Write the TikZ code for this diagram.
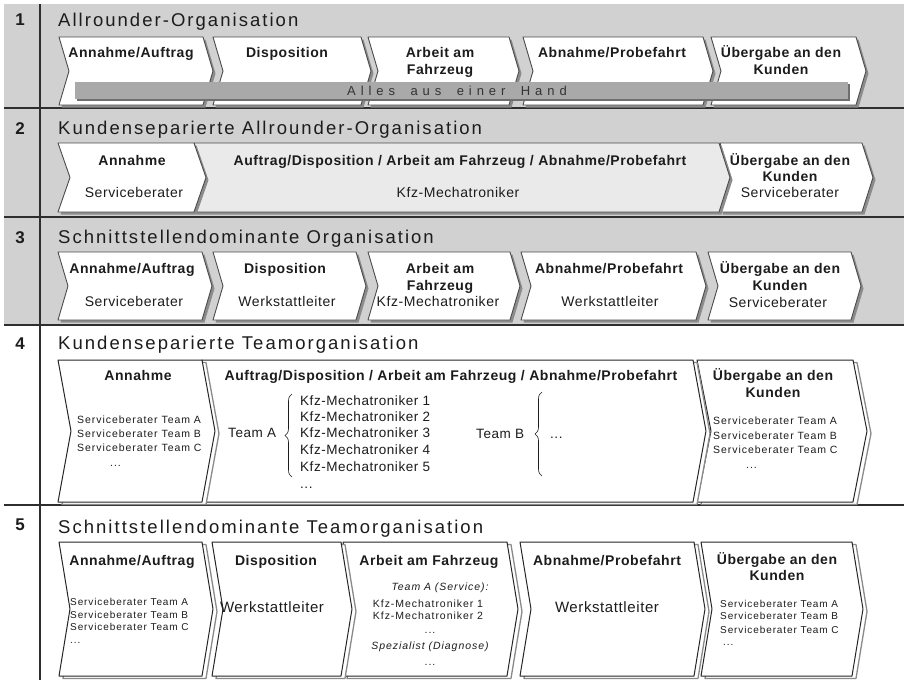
\documentclass[tikz,border=0pt]{standalone}
\usepackage{fontspec}
\setmainfont{Liberation Sans}
\newfontfamily\ttlfont[LetterSpace=11]{Liberation Sans}
\newfontfamily\labfont[LetterSpace=4]{Liberation Sans}
\newfontfamily\smlfont[LetterSpace=9]{Liberation Sans}
\newfontfamily\barfont[LetterSpace=38,WordSpace=1.8]{Liberation Sans}
\usetikzlibrary{decorations.pathreplacing}

\definecolor{bandgray}{HTML}{D1D1D1}
\definecolor{rulegray}{HTML}{2E2E2E}
\definecolor{edgegray}{HTML}{4A4A4A}
\definecolor{shadegray}{HTML}{8C8C8C}
\definecolor{framegray}{HTML}{8A8A8A}
\definecolor{bargray}{HTML}{A9A9A9}
\definecolor{barshade}{HTML}{6E6E6E}
\definecolor{palegray}{HTML}{EAEAEA}
\definecolor{inkgray}{HTML}{1C1C1C}

% chevron: #1 style, #2 x left, #3 x right (top corner), #4 y top, #5 y bottom, #6 point depth
\newcommand{\chev}[6]{%
  \path[#1shade] (#2,#4) -- (#3,#4) -- ({#3+#6},{(#4+#5)/2}) -- (#3,#5) -- (#2,#5) -- ({#2+#6},{(#4+#5)/2}) -- cycle;
  \path[#1] (#2,#4) -- (#3,#4) -- ({#3+#6},{(#4+#5)/2}) -- (#3,#5) -- (#2,#5) -- ({#2+#6},{(#4+#5)/2}) -- cycle;
}

\begin{document}
\begin{tikzpicture}[x=1pt,y=-1pt,
  bevel/.style={fill=white, draw=edgegray, line width=0.9pt, line join=round},
  bevelshade/.style={fill=shadegray, shift={(2.5,2.5)}},
  pale/.style={fill=palegray, draw=edgegray, line width=0.9pt, line join=round},
  paleshade/.style={fill=shadegray, shift={(2.5,2.5)}},
  frame/.style={fill=white, draw=black!85, line width=1pt, line join=round},
  frameshade/.style={fill=white, draw=framegray, line width=1.3pt, line join=round, shift={(4,2.5)}},
  rowrule/.style={draw=rulegray, line width=1.6pt},
  colrule/.style={draw=rulegray, line width=1.3pt},
  ttl/.style={font={\ttlfont\fontsize{18.5}{22}\selectfont}, anchor=base west, text=inkgray, inner sep=0pt},
  num/.style={font={\labfont\bfseries\fontsize{17}{20}\selectfont}, anchor=base, text=inkgray, inner sep=0pt},
  lab/.style={font={\labfont\bfseries\fontsize{14}{16}\selectfont}, anchor=base, text=inkgray, inner sep=0pt},
  txt/.style={font={\labfont\fontsize{14}{16}\selectfont}, anchor=base, text=inkgray, inner sep=0pt},
  bigtxt/.style={font={\labfont\fontsize{15}{17}\selectfont}, anchor=base, text=inkgray, inner sep=0pt},
  kfz/.style={font={\labfont\fontsize{13.5}{16}\selectfont}, anchor=base west, text=inkgray, inner sep=0pt},
  sml/.style={font={\smlfont\fontsize{10.5}{13}\selectfont}, anchor=base west, text=inkgray, inner sep=0pt},
  tiny/.style={font={\smlfont\fontsize{10}{12}\selectfont}, anchor=base west, text=inkgray, inner sep=0pt},
  smlc/.style={font={\smlfont\fontsize{10.5}{13}\selectfont}, anchor=base, text=inkgray, inner sep=0pt},
  smli/.style={font={\smlfont\itshape\fontsize{10.5}{13}\selectfont}, anchor=base, text=inkgray, inner sep=0pt},
  bartxt/.style={font={\barfont\fontsize{13}{15}\selectfont}, anchor=base, text=black!80, inner sep=0pt},
  teambrace/.style={draw=inkgray, line width=0.6pt, decorate, decoration={brace, amplitude=7pt}}
]
\useasboundingbox (0,0) rectangle (906,680);
\fill[white] (0,0) rectangle (906,680);

% grey band behind the first three rows, row rules and number column
\fill[bandgray] (4,4) rectangle (904,325);
\draw[rowrule] (4,108) -- (904,108);
\draw[rowrule] (4,217) -- (904,217);
\draw[rowrule] (4,325) -- (904,325);
\draw[rowrule] (4,505) -- (904,505);
\draw[colrule] (40,4) -- (40,680);

% ---------------- row 1 ----------------
\node[num] (n1) at (20,25) {1};
\node[ttl] (t1) at (58,26.5) {Allrounder-Organisation};
\chev{bevel}{711}{856}{37}{105}{10}
\chev{bevel}{523}{703}{37}{105}{10}
\chev{bevel}{368}{509}{37}{105}{10}
\chev{bevel}{213}{361}{37}{105}{10}
\chev{bevel}{59}{203}{37}{105}{10}
\fill[barshade] (76.5,83.5) rectangle (849.5,100.5);
\fill[bargray] (75,82) rectangle (848,98.5);
\node[lab] (r1a) at (131,57) {Annahme/Auftrag};
\node[lab] (r1b) at (287,57) {Disposition};
\node[lab] (r1c) at (440,57) {Arbeit am};
\node[lab] (r1c2) at (440,74) {Fahrzeug};
\node[lab] (r1d) at (612,57) {Abnahme/Probefahrt};
\node[lab] (r1e) at (781,57) {Übergabe an den};
\node[lab] (r1e2) at (781,74) {Kunden};
\node[bartxt] (r1bar) at (457,95) {Alles aus einer Hand};

% ---------------- row 2 ----------------
\node[num] (n2) at (20,134) {2};
\node[ttl] (t2) at (58,134) {Kundenseparierte Allrounder-Organisation};
\chev{bevel}{720}{862}{143}{212}{11}
\chev{pale}{194}{719}{143}{212}{11}
\chev{bevel}{58}{194}{143}{212}{12}
\node[lab] (r2a) at (132,165) {Annahme};
\node[txt] (r2a2) at (134,197) {Serviceberater};
\node[lab] (r2b) at (460,165) {Auftrag/Disposition / Arbeit am Fahrzeug / Abnahme/Probefahrt};
\node[txt] (r2b2) at (458,197) {Kfz-Mechatroniker};
\node[lab] (r2c) at (790,165) {Übergabe an den};
\node[lab] (r2c2) at (790,181) {Kunden};
\node[txt] (r2c3) at (790,197) {Serviceberater};

% ---------------- row 3 ----------------
\node[num] (n3) at (20,243) {3};
\node[ttl] (t3) at (58,243) {Schnittstellendominante Organisation};
\chev{bevel}{708}{851}{252}{320}{10}
\chev{bevel}{521}{696}{252}{320}{10}
\chev{bevel}{368}{510}{252}{320}{10}
\chev{bevel}{213}{356}{252}{320}{10}
\chev{bevel}{58}{202}{252}{320}{10}
\node[lab] (r3a) at (132,273) {Annahme/Auftrag};
\node[txt] (r3a2) at (134,306) {Serviceberater};
\node[lab] (r3b) at (285,273) {Disposition};
\node[txt] (r3b2) at (287,306) {Werkstattleiter};
\node[lab] (r3c) at (440,273) {Arbeit am};
\node[lab] (r3c2) at (440,290) {Fahrzeug};
\node[txt] (r3c3) at (438,306) {Kfz-Mechatroniker};
\node[lab] (r3d) at (609,273) {Abnahme/Probefahrt};
\node[txt] (r3d2) at (610,306) {Werkstattleiter};
\node[lab] (r3e) at (780,273) {Übergabe an den};
\node[lab] (r3e2) at (780,290) {Kunden};
\node[txt] (r3e3) at (778,307) {Serviceberater};

% ---------------- row 4 ----------------
\node[num] (n4) at (20,349) {4};
\node[ttl] (t4) at (58,349) {Kundenseparierte Teamorganisation};
\chev{frame}{697}{853}{360}{502}{14}
\chev{frame}{202}{693}{360}{502}{13}
\chev{frame}{58}{202}{360}{502}{13}
\node[lab] (r4a) at (138,380) {Annahme};
\node[sml] (r4a1) at (77,423) {Serviceberater Team A};
\node[sml] (r4a2) at (77,437) {Serviceberater Team B};
\node[sml] (r4a3) at (77,451) {Serviceberater Team C};
\node[sml] (r4a4) at (110,466) {...};
\node[lab] (r4b) at (451,380) {Auftrag/Disposition / Arbeit am Fahrzeug / Abnahme/Probefahrt};
\node[kfz] (teamA) at (228,437) {Team A};
\coordinate (braceAbot) at (292,477);
\coordinate (braceAtop) at (292,394);
\draw[teambrace] (braceAbot) -- (braceAtop);
\node[kfz] (k1) at (300,405) {Kfz-Mechatroniker 1};
\node[kfz] (k2) at (300,421) {Kfz-Mechatroniker 2};
\node[kfz] (k3) at (300,437) {Kfz-Mechatroniker 3};
\node[kfz] (k4) at (300,454) {Kfz-Mechatroniker 4};
\node[kfz] (k5) at (300,471) {Kfz-Mechatroniker 5};
\node[kfz] (k6) at (300,488) {...};
\node[kfz] (teamB) at (476,438) {Team B};
\coordinate (braceBbot) at (542,476);
\coordinate (braceBtop) at (542,392);
\draw[teambrace] (braceBbot) -- (braceBtop);
\node[kfz] (kB) at (550,438) {...};
\node[lab] (r4c) at (773,380) {Übergabe an den};
\node[lab] (r4c2) at (773,397) {Kunden};
\node[sml] (r4c3) at (713,424) {Serviceberater Team A};
\node[sml] (r4c4) at (713,439) {Serviceberater Team B};
\node[sml] (r4c5) at (713,453) {Serviceberater Team C};
\node[sml] (r4c6) at (746,468) {...};

% ---------------- row 5 ----------------
\node[num] (n5) at (20,530) {5};
\node[ttl] (t5) at (58,533) {Schnittstellendominante Teamorganisation};
\chev{frame}{701}{852}{542}{676}{11}
\chev{frame}{520}{694}{542}{676}{11}
\chev{frame}{343}{507}{542}{676}{11}
\chev{frame}{212}{341}{542}{676}{11}
\chev{frame}{59}{202}{542}{676}{11}
\node[lab] (r5a) at (132,565) {Annahme/Auftrag};
\node[tiny] (r5a1) at (70,605) {Serviceberater Team A};
\node[tiny] (r5a2) at (70,618) {Serviceberater Team B};
\node[tiny] (r5a3) at (70,630) {Serviceberater Team C};
\node[tiny] (r5a4) at (70,643) {...};
\node[lab] (r5b) at (276,565) {Disposition};
\node[bigtxt] (r5b2) at (272,612) {Werkstattleiter};
\node[lab] (r5c) at (429,565) {Arbeit am Fahrzeug};
\node[smli] (r5c1) at (440,590) {Team A (Service):};
\node[smlc] (r5c2) at (428,607) {Kfz-Mechatroniker 1};
\node[smlc] (r5c3) at (428,619) {Kfz-Mechatroniker 2};
\node[smlc] (r5c4) at (430,633) {...};
\node[smli] (r5c5) at (430,649) {Spezialist (Diagnose)};
\node[smlc] (r5c6) at (430,665) {...};
\node[lab] (r5d) at (607,565) {Abnahme/Probefahrt};
\node[bigtxt] (r5d2) at (607,612) {Werkstattleiter};
\node[lab] (r5e) at (777,564) {Übergabe an den};
\node[lab] (r5e2) at (777,580) {Kunden};
\node[tiny] (r5e3) at (720,607) {Serviceberater Team A};
\node[tiny] (r5e4) at (720,619) {Serviceberater Team B};
\node[tiny] (r5e5) at (720,633) {Serviceberater Team C};
\node[tiny] (r5e6) at (723,645) {...};
\end{tikzpicture}
\end{document}
